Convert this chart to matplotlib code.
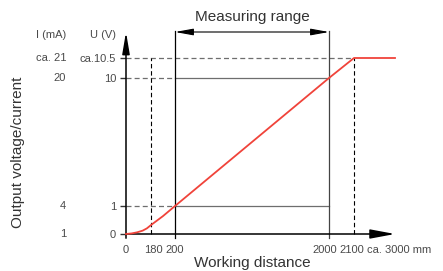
import numpy as np
import matplotlib.pyplot as plt
import matplotlib.transforms as mtransforms

plt.rcParams['font.family'] = ['Liberation Sans', 'DejaVu Sans']

# working distance ticks (mm) and output levels
dist_mm = [0, 180, 200, 2000, 2100, 3000]
dist_labels = ['0', '180', '200', '2000', '2100', 'ca. 3000 mm']
volt = [0, 1, 10, 10.5]
volt_labels = ['0', '1', '10', 'ca.10.5']
curr_labels = ['1', '4', '20', 'ca. 21']

# output characteristic (red curve)
curve_x = [0, 40, 80, 120, 150, 180, 190, 200, 2000, 2100, 3000]
curve_y = [0, 0.02, 0.06, 0.12, 0.2, 0.32, 0.64, 1, 10, 10.5, 10.5]

# schematic (non linear) scales
xk = [-1000, 0, 180, 200, 2000, 2100, 3000, 6000]
xd = [-89, 0, 25, 49, 203, 228, 269, 406]
yk = [-5, 0, 1, 10, 10.5, 12, 20]
yd = [-140, 0, 28, 156, 176, 202, 316]

fx = lambda v: np.interp(v, xk, xd)
ix = lambda v: np.interp(v, xd, xk)
fy = lambda v: np.interp(v, yk, yd)
iy = lambda v: np.interp(v, yd, yk)

W, H = 443, 271
fig = plt.figure(figsize=(W / 100, H / 100), dpi=100)
ax = fig.add_axes([126 / W, 37 / H, 269 / W, 202 / H])
ax.set_xscale('function', functions=(fx, ix))
ax.set_yscale('function', functions=(fy, iy))
ax.set_xlim(0, 3000)
ax.set_ylim(0, 12)
for s in ax.spines.values():
    s.set_visible(False)

txt = '#4a4a4a'
grey = '#6e6e6e'

# y ticks (U) and current column (I)
ax.set_yticks(volt, volt_labels)
ax.tick_params(axis='y', length=4.3, width=1.0, color='#333333', pad=2.8,
               labelsize=8, labelcolor=txt)
ax.set_xticks([])

bt = mtransforms.blended_transform_factory(fig.transFigure, ax.transData)
for v, lab in zip(volt, curr_labels):
    ax.text(66 / W, v, lab, transform=bt, ha='right', va='center',
            fontsize=8, color=txt)
ax.text(66 / W, 11.85, 'I (mA)', transform=bt, ha='right', va='center',
        fontsize=8, color=txt)
ax.text(116 / W, 11.85, 'U (V)', transform=bt, ha='right', va='center',
        fontsize=8, color=txt)

# x labels, nudged a little as in the drawing
nudge = [0, 1.5, 0, -3, -1.5, -20.5]
for x, lab, dx in zip(dist_mm, dist_labels, nudge):
    ax.annotate(lab, (x, 0), xytext=(dx, -11.5), textcoords='offset points',
                ha='left' if lab.startswith('ca') else 'center', va='center',
                fontsize=8, color=txt, annotation_clip=False)

# guide lines
kw = dict(clip_on=False)
ax.plot([0, 200], [10, 10], color=grey, lw=0.9, dashes=(4, 2.5), **kw)
ax.plot([200, 2000], [10, 10], color=grey, lw=0.9, **kw)
ax.plot([0, 200], [1, 1], color=grey, lw=0.9, dashes=(4, 2.5), **kw)
ax.plot([200, 2000], [1, 1], color=grey, lw=0.9, **kw)
ax.plot([0, 2100], [10.5, 10.5], color=grey, lw=0.9, dashes=(4, 2.5), **kw)
ax.plot([180, 180], [0, 10.5], color='black', lw=0.8, dashes=(4, 2.5), **kw)
ax.plot([2100, 2100], [0, 10.5], color='black', lw=0.8, dashes=(4, 2.5), **kw)
ax.plot([200, 200], [-0.15, 12.1], color='black', lw=0.9, **kw)
ax.plot([2000, 2000], [-0.15, 12.1], color='#444444', lw=0.9, **kw)

# measuring range bracket
ax.annotate('', xy=(200, 12), xytext=(2000, 12),
            arrowprops=dict(arrowstyle='<|-|>,head_length=1.1,head_width=0.2',
                            color='black', lw=0.8, shrinkA=0, shrinkB=0,
                            mutation_scale=10), annotation_clip=False)
ax.text(0.468, 1.072, 'Measuring range', transform=ax.transAxes,
        ha='center', va='center', fontsize=11, color='#333333')

# axes arrows
ax.annotate('', xy=(3000, 0), xytext=(0, 0),
            arrowprops=dict(arrowstyle='-|>,head_length=1.5,head_width=0.28',
                            color='black', lw=1.1, shrinkA=0, shrinkB=0,
                            mutation_scale=10), annotation_clip=False)
ax.annotate('', xy=(0, 12), xytext=(0, -0.15),
            arrowprops=dict(arrowstyle='-|>,head_length=1.3,head_width=0.22',
                            color='black', lw=1.1, shrinkA=0, shrinkB=0,
                            mutation_scale=10), annotation_clip=False)

# characteristic
ax.plot(curve_x, curve_y, color='#f0433a', lw=1.3, clip_on=False, zorder=5)

fig.text(252 / W, 1 - 263 / H, 'Working distance', ha='center', va='center',
         fontsize=11, color='#333333')
fig.text(18 / W, 1 - 152 / H, 'Output voltage/current', ha='center',
         va='center', rotation=90, fontsize=11, color='#333333')

fig.savefig('out.png', dpi=100)
